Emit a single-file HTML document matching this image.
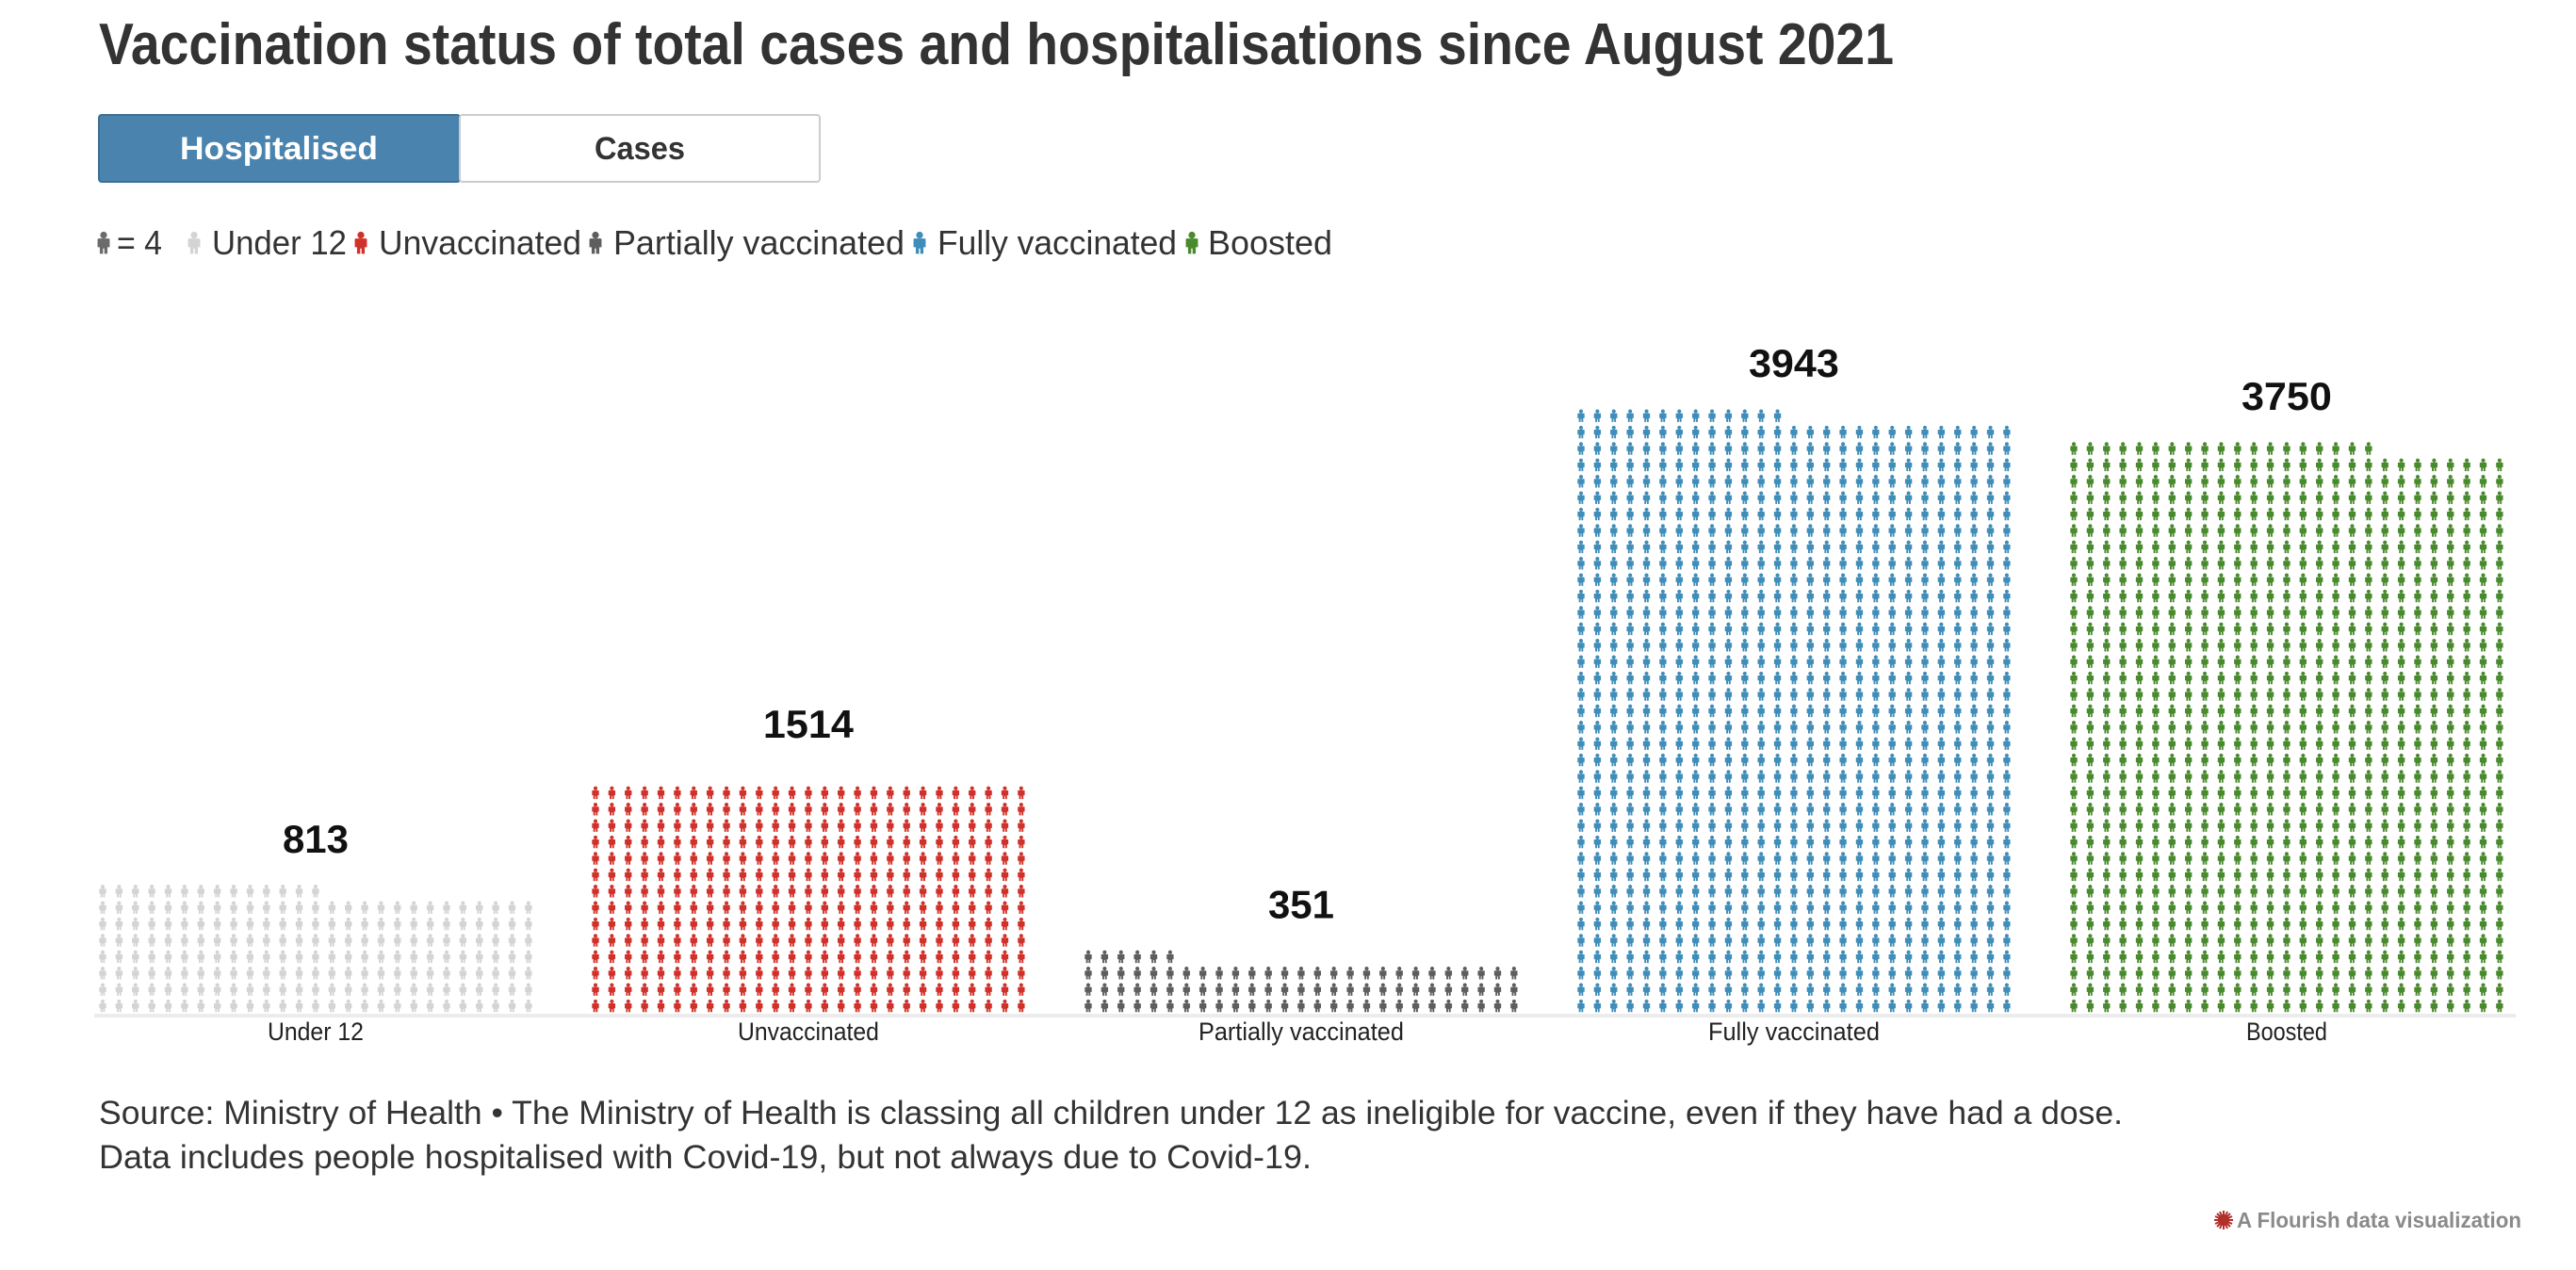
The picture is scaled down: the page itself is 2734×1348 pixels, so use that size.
<!DOCTYPE html>
<html><head><meta charset="utf-8">
<style>
html,body{margin:0;padding:0;background:#fff;}
svg{display:block;}
text{font-family:"Liberation Sans",sans-serif;}
</style></head>
<body>
<svg id="chart" width="2734" height="1348" viewBox="0 0 2734 1348" xmlns="http://www.w3.org/2000/svg">
  <defs>
    <symbol id="person" viewBox="-5 -17 10 17" overflow="visible">
      <circle cx="0" cy="-14.2" r="2.6"/>
      <path d="M-4.6,-10.8 Q-4.6,-11.6 -3.6,-11.6 L3.6,-11.6 Q4.6,-11.6 4.6,-10.8 L4.6,-5 L2.9,-5 L2.9,0 L0.5,0 L0.5,-4 L-0.5,-4 L-0.5,0 L-2.9,0 L-2.9,-5 L-4.6,-5 Z"/>
    </symbol>
  </defs>
  <text x="105" y="68" font-size="62" font-weight="bold" fill="#333" textLength="1905" lengthAdjust="spacingAndGlyphs">Vaccination status of total cases and hospitalisations since August 2021</text>

  <g>
    <rect x="105" y="122" width="383" height="71" rx="3" fill="#4a84ae" stroke="#3f6f93" stroke-width="2"/>
    <text x="296" y="169" font-size="34" font-weight="bold" fill="#fff" text-anchor="middle" textLength="210" lengthAdjust="spacingAndGlyphs">Hospitalised</text>
  </g>
  <g>
    <rect x="488" y="122" width="382" height="71" rx="3" fill="#fff" stroke="#ccc" stroke-width="2"/>
    <text x="679" y="169" font-size="34" font-weight="bold" fill="#333" text-anchor="middle" textLength="96" lengthAdjust="spacingAndGlyphs">Cases</text>
  </g>

  <g id="legend"></g>
  <line x1="100" y1="1078" x2="2670" y2="1078" stroke="#ececec" stroke-width="4"/>
  <g id="marks"></g>

  <text x="105" y="1193" font-size="35" fill="#333" textLength="2148" lengthAdjust="spacingAndGlyphs">Source: Ministry of Health • The Ministry of Health is classing all children under 12 as ineligible for vaccine, even if they have had a dose.</text>
  <text x="105" y="1240" font-size="35" fill="#333" textLength="1287" lengthAdjust="spacingAndGlyphs">Data includes people hospitalised with Covid-19, but not always due to Covid-19.</text>

  <g>
    <g transform="translate(2360,1295)" stroke="#b0302a" stroke-width="2">
      <line x1="-10" y1="0" x2="10" y2="0"/><line x1="0" y1="-10" x2="0" y2="10"/>
      <line x1="-7" y1="-7" x2="7" y2="7"/><line x1="-7" y1="7" x2="7" y2="-7"/>
      <line x1="-9" y1="-4" x2="9" y2="4"/><line x1="-9" y1="4" x2="9" y2="-4"/>
      <line x1="-4" y1="-9" x2="4" y2="9"/><line x1="4" y1="-9" x2="-4" y2="9"/>
      <circle r="5" fill="#b0302a"/>
    </g>
    <text x="2374" y="1303" font-size="23" font-weight="bold" fill="#8a8a8a" textLength="302" lengthAdjust="spacingAndGlyphs">A Flourish data visualization</text>
  </g>
</svg>
<script>
const categories = ["Under 12", "Unvaccinated", "Partially vaccinated", "Fully vaccinated", "Boosted"];
const values = [813, 1514, 351, 3943, 3750];
const valueLabels = ["813", "1514", "351", "3943", "3750"];
const unitValue = 4;
const columnsPerGroup = 27;
const colors = ["#d4d4d4", "#d0312a", "#5e5e5e", "#3f8db8", "#4a8a2e"];

const NS = "http://www.w3.org/2000/svg";
const marks = document.getElementById('marks');
const groupStart0 = 109, groupPitch = 523, colPitch = 17.38, rowPitch = 17.4, baseY = 1076;
const iconW = 8, iconH = 17;
function xCol(g, c) { return groupStart0 + groupPitch * g + colPitch * c; }
function yRow(r) { return baseY - rowPitch * r; }
const catLabelW = [102, 150, 218, 182, 86];
const valLabelW = [70, 96, 70, 96, 96];

categories.forEach((cat, g) => {
  const grp = document.createElementNS(NS, 'g');
  
  
  grp.setAttribute('fill', colors[g]);
  const n = values[g] / unitValue;
  const full = Math.floor(n);
  const frac = n - full;
  for (let i = 0; i < full; i++) {
    const r = Math.floor(i / columnsPerGroup), c = i % columnsPerGroup;
    const u = document.createElementNS(NS, 'use');
    u.setAttribute('href', '#person');
    u.setAttribute('x', xCol(g, c) - iconW / 2);
    u.setAttribute('y', yRow(r) - iconH);
    u.setAttribute('width', iconW);
    u.setAttribute('height', iconH);
    u.setAttribute('preserveAspectRatio', 'none');
    grp.appendChild(u);
  }
  if (frac > 0.01) {
    const r = Math.floor(full / columnsPerGroup), c = full % columnsPerGroup;
    const cid = 'clip' + g;
    const cp = document.createElementNS(NS, 'clipPath');
    cp.setAttribute('id', cid);
    const cr = document.createElementNS(NS, 'rect');
    cr.setAttribute('x', xCol(g, c) - iconW);
    cr.setAttribute('y', yRow(r) - iconH * frac);
    cr.setAttribute('width', iconW * 2);
    cr.setAttribute('height', iconH * frac);
    cp.appendChild(cr);
    grp.appendChild(cp);
    const u = document.createElementNS(NS, 'use');
    u.setAttribute('href', '#person');
    u.setAttribute('x', xCol(g, c) - iconW / 2);
    u.setAttribute('y', yRow(r) - iconH);
    u.setAttribute('width', iconW);
    u.setAttribute('height', iconH);
    u.setAttribute('preserveAspectRatio', 'none');
    u.setAttribute('clip-path', 'url(#' + cid + ')');
    grp.appendChild(u);
  }
  marks.appendChild(grp);

  const rowsTop = Math.ceil(n / columnsPerGroup);
  const cx = (xCol(g, 0) + xCol(g, columnsPerGroup - 1)) / 2;
  const vt = document.createElementNS(NS, 'text');
  
  
  vt.setAttribute('x', cx);
  vt.setAttribute('y', yRow(rowsTop) - 32);
  vt.setAttribute('text-anchor', 'middle');
  vt.setAttribute('font-size', '42');
  vt.setAttribute('font-weight', 'bold');
  vt.setAttribute('fill', '#111');
  vt.setAttribute('textLength', valLabelW[g]);
  vt.setAttribute('lengthAdjust', 'spacingAndGlyphs');
  vt.textContent = valueLabels[g];
  marks.appendChild(vt);

  const ct = document.createElementNS(NS, 'text');
  
  
  ct.setAttribute('x', cx);
  ct.setAttribute('y', 1104);
  ct.setAttribute('text-anchor', 'middle');
  ct.setAttribute('font-size', '27');
  ct.setAttribute('fill', '#222');
  ct.setAttribute('textLength', catLabelW[g]);
  ct.setAttribute('lengthAdjust', 'spacingAndGlyphs');
  ct.textContent = cat;
  marks.appendChild(ct);
});

// legend
const legend = document.getElementById('legend');
const legendItems = [
  {label: "= 4", color: "#6b6b6b", ix: 110, tx: 124, tw: 48},
  {label: "Under 12", color: "#d4d4d4", ix: 206, tx: 225, tw: 143},
  {label: "Unvaccinated", color: "#d0312a", ix: 383, tx: 402, tw: 215},
  {label: "Partially vaccinated", color: "#5e5e5e", ix: 632, tx: 651, tw: 309},
  {label: "Fully vaccinated", color: "#3f8db8", ix: 976, tx: 995, tw: 254},
  {label: "Boosted", color: "#4a8a2e", ix: 1265, tx: 1282, tw: 132}
];
legendItems.forEach(it => {
  const u = document.createElementNS(NS, 'use');
  
  
  u.setAttribute('href', '#person');
  u.setAttribute('x', it.ix - 7);
  u.setAttribute('y', 240);
  u.setAttribute('width', 14);
  u.setAttribute('height', 35);
  u.setAttribute('fill', it.color);
  u.setAttribute('preserveAspectRatio', 'none');
  legend.appendChild(u);
  const t = document.createElementNS(NS, 'text');
  
  
  t.setAttribute('x', it.tx);
  t.setAttribute('y', 270);
  t.setAttribute('font-size', '36');
  t.setAttribute('fill', '#333');
  t.setAttribute('textLength', it.tw);
  t.setAttribute('lengthAdjust', 'spacingAndGlyphs');
  t.textContent = it.label;
  legend.appendChild(t);
});
</script>
</body></html>
